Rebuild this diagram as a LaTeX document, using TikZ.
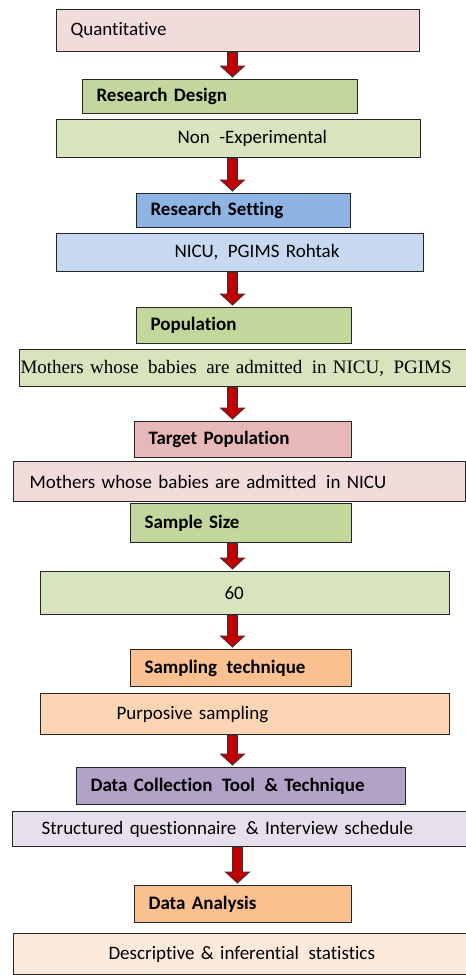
\documentclass[tikz,border=0pt]{standalone}
\usepackage{fontspec}
\setmainfont{Carlito}[Ligatures=NoCommon]
\newfontfamily\timesfont{Liberation Serif}
\usetikzlibrary{calc}

\definecolor{pinkL}{HTML}{F2DCDB}
\definecolor{pinkD}{HTML}{E6B9B8}
\definecolor{greenD}{HTML}{C3D69B}
\definecolor{greenL}{HTML}{D7E4BD}
\definecolor{blueD}{HTML}{8EB4E3}
\definecolor{blueL}{HTML}{C6D9F1}
\definecolor{orangeD}{HTML}{FAC090}
\definecolor{orangeL}{HTML}{FCD5B5}
\definecolor{orangeXL}{HTML}{FDEADA}
\definecolor{purpleD}{HTML}{B3A2C7}
\definecolor{purpleL}{HTML}{E6E0EC}
\definecolor{arrowred}{RGB}{192,0,0}

\tikzset{
  stage/.style={draw=black!85, line width=1.1pt, anchor=north west, inner xsep=0pt, inner ysep=0pt, align=left,
    font=\fontsize{19}{22}\selectfont},
  head/.style={stage, font=\fontsize{19}{22}\selectfont\bfseries},
  flow/.style={fill=arrowred, draw=black!80, line width=0.8pt, line join=miter}
}

% name, x, y, width, height, style, indent, text
\newcommand\stagebox[8]{\node[#6, minimum width=#4pt, minimum height=#5pt, text width=#4pt] (#1) at (#2,#3) {\hspace*{#7pt}#8};}
% block arrow between two boxes, optional centre x
\newcommand\flowarrow[3][232.5]{\filldraw[flow] let \p1=(#2.south), \p2=(#3.north) in
  ({#1pt-5pt},\y1) -- ({#1pt+5pt},\y1) -- ({#1pt+5pt},\y2+13pt) -- ({#1pt+12pt},\y2+13pt) --
  (#1pt,\y2+2pt) -- ({#1pt-12pt},\y2+13pt) -- ({#1pt-5pt},\y2+13pt) -- cycle;}

\begin{document}
\begin{tikzpicture}[x=1pt, y=-1pt]
    \useasboundingbox (0,0) rectangle (466,975);
    \clip (0,0) rectangle (466,975);

    % design
    \stagebox{quant}{56}{9}{363}{42}{stage, fill=pinkL}{14}{Quantitative}
    \stagebox{design}{82}{79}{275}{34}{head, fill=greenD}{14}{Research Design}
    \stagebox{nonexp}{56}{119}{364}{38}{stage, fill=greenL}{121}{Non \,-Experimental}

    % setting
    \stagebox{setting}{136}{193}{214}{34}{head, fill=blueD}{14}{Research Setting}
    \stagebox{nicu}{56}{233}{367}{38}{stage, fill=blueL}{118}{NICU, \,PGIMS Rohtak}

    % population
    \stagebox{population}{136}{307}{215}{36}{head, fill=greenD}{14}{Population}
    \stagebox{popstmt}{19}{349}{460}{37}{stage, fill=greenL, font=\fontsize{19}{22}\selectfont\timesfont}{1}{Mothers whose \,babies \,are admitted \,in NICU, \,PGIMS}
    \stagebox{target}{134}{421}{217}{36}{head, fill=pinkD}{14}{Target Population}
    \stagebox{targetstmt}{13}{461}{452}{40}{stage, fill=pinkL}{16}{Mothers whose babies are admitted \,in NICU}

    % sample
    \stagebox{size}{130}{503}{221}{39}{head, fill=greenD}{14}{Sample Size}
    \stagebox{sixty}{40}{571}{409}{43}{stage, fill=greenL}{184}{60}
    \stagebox{technique}{130}{649}{221}{37}{head, fill=orangeD}{14}{Sampling \,technique}
    \stagebox{purposive}{40}{693}{409}{41}{stage, fill=orangeL}{76}{Purposive sampling}

    % data
    \stagebox{tool}{76}{767}{329}{37}{head, fill=purpleD}{14}{Data Collection \,Tool \,\& Technique}
    \stagebox{structured}{12}{811}{465}{35}{stage, fill=purpleL}{29}{Structured questionnaire \,\& Interview schedule}
    \stagebox{analysis}{134}{885}{217}{37}{head, fill=orangeD}{14}{Data Analysis}
    \stagebox{descriptive}{13}{933}{465}{41}{stage, fill=orangeXL}{95}{Descriptive \& inferential \,statistics}

    % arrows
    \flowarrow{quant}{design}
    \flowarrow{nonexp}{setting}
    \flowarrow{nicu}{population}
    \flowarrow{popstmt}{target}
    \flowarrow{size}{sixty}
    \flowarrow{sixty}{technique}
    \flowarrow{purposive}{tool}
    \flowarrow[237.5]{structured}{analysis}
\end{tikzpicture}
\end{document}
